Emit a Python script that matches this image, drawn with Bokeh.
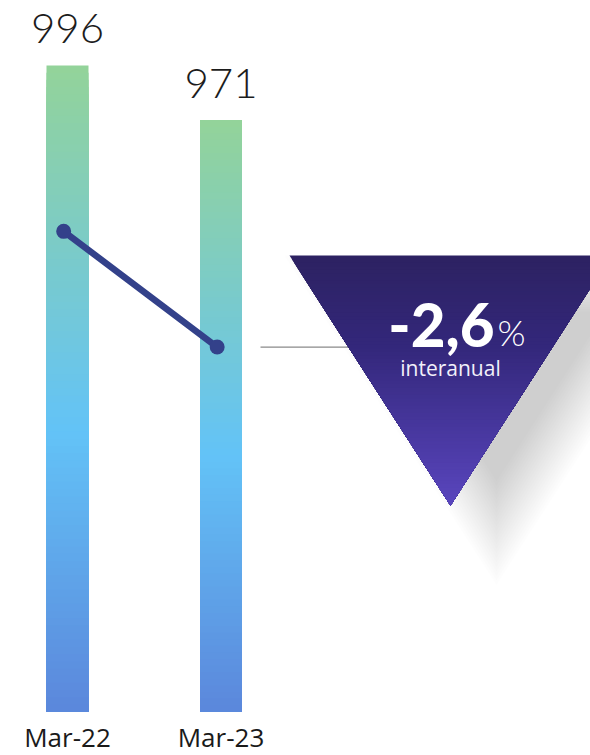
import math
from bokeh.plotting import figure
from bokeh.models import Range1d
from bokeh.core.properties import value
from bokeh.embed import file_html
from bokeh.resources import INLINE

# ---------------- data ----------------
CATEGORIES = ["Mar-22", "Mar-23"]
VALUES = [996, 971]
TREND = [920, 867]
AXIS_MIN = 700
CHANGE_TEXT = "-2,6"
CHANGE_UNIT = "%"
CHANGE_CAPTION = "interanual"

# ---------------- layout constants (pixels) ----------------
W, H = 590, 755
BASE_PX = 711          # screen row of the bar baseline
PX_PER_X = 153.5
PX_PER_Y = 2.1824
X_START = -67 / PX_PER_X
X_END = X_START + W / PX_PER_X
Y_END = AXIS_MIN + BASE_PX / PX_PER_Y
Y_START = Y_END - H / PX_PER_Y

LIGHT = value("Lato Light, Open Sans Light, Open Sans")
HEAVY = value("Lato Black, Lato")


def px2x(px):
    return X_START + px / PX_PER_X


def px2y(py):
    return Y_END - py / PX_PER_Y


def hex2rgb(h):
    h = h.lstrip("#")
    return tuple(int(h[i:i + 2], 16) for i in (0, 2, 4))


def grad(stops, f):
    for (p0, c0), (p1, c1) in zip(stops[:-1], stops[1:]):
        if f <= p1:
            t = 0 if p1 == p0 else (f - p0) / (p1 - p0)
            a, b = hex2rgb(c0), hex2rgb(c1)
            return "#%02x%02x%02x" % tuple(round(a[i] + (b[i] - a[i]) * t) for i in range(3))
    return stops[-1][1]


BAR_STOPS = [(0.0, "#93D39A"), (0.56, "#63C3F7"), (1.0, "#5B86DB")]
TRI_STOPS = [(0.0, "#2D2262"), (0.35, "#33277A"), (1.0, "#5A46BF")]

p = figure(width=W, height=H, x_range=Range1d(X_START, X_END),
           y_range=Range1d(Y_START, Y_END), x_axis_location=None, y_axis_location=None,
           toolbar_location=None, output_backend="svg", min_border=0)
p.outline_line_color = None
p.grid.visible = False
p.background_fill_color = "white"
p.border_fill_color = "white"

# ---------------- gradient bars ----------------
N = 90
bx, btop, bcol = [], [], []
for i, v in enumerate(VALUES):
    for k in range(N):
        f = k / N
        bx.append(i)
        btop.append(v - (v - AXIS_MIN) * f)
        bcol.append(grad(BAR_STOPS, f))
p.vbar(x=bx, top=btop, bottom=AXIS_MIN, width=42 / PX_PER_X,
       fill_color=bcol, line_color=None)

# value labels
p.text(x=list(range(len(VALUES))), y=VALUES, text=[str(v) for v in VALUES],
       text_align="center", text_baseline="alphabetic", y_offset=-37,
       text_font=LIGHT, text_font_size="42px", text_color="#1c1c1c")

# category labels (under the baseline)
p.text(x=list(range(len(CATEGORIES))), y=[AXIS_MIN] * len(CATEGORIES), text=CATEGORIES,
       text_align="center", text_baseline="alphabetic", y_offset=25,
       text_font=value("Open Sans"), text_font_size="26px", text_color="#1a1a1a")

# trend line
TREND_DX = -0.025
tx = [i + TREND_DX for i in range(len(TREND))]
p.line(tx, TREND, line_color="#33418A", line_width=6.5, line_cap="round")
p.scatter(tx, TREND, size=15, fill_color="#33418A", line_color=None)

# ---------------- badge (triangle) ----------------
TL, TR, AP = (289, 255), (611, 255), (450, 505)

# soft shadow: layered insets of an offset triangle
SDX, SDY = 46, 28
S = [(TL[0] + SDX, TL[1] + SDY), (TR[0] + SDX, TR[1] + SDY), (AP[0] + SDX, AP[1] + SDY)]


def dist(a, b):
    return math.hypot(a[0] - b[0], a[1] - b[1])


la, lb, lc = dist(S[1], S[2]), dist(S[0], S[2]), dist(S[0], S[1])
per = la + lb + lc
ix = (la * S[0][0] + lb * S[1][0] + lc * S[2][0]) / per
iy = (la * S[0][1] + lb * S[1][1] + lc * S[2][1]) / per
area = abs((S[1][0] - S[0][0]) * (S[2][1] - S[0][1]) - (S[2][0] - S[0][0]) * (S[1][1] - S[0][1])) / 2
r = area / (per / 2)
sxs, sys_ = [], []
LAYERS = 24
for k in range(LAYERS):
    d = -28 + 56 * k / (LAYERS - 1)
    sc = (r - d) / r
    sxs.append([px2x(ix + (pt[0] - ix) * sc) for pt in S])
    sys_.append([px2y(iy + (pt[1] - iy) * sc) for pt in S])
p.patches(sxs, sys_, fill_color="black", fill_alpha=0.0082, line_color=None)

# connector
p.line([px2x(260), px2x(352)], [TREND[1], TREND[1]], line_color="#8a8a8a", line_width=1.2)

# gradient triangle
M = 70
txs, tys, tcs = [], [], []
hw = (TR[0] - TL[0]) / 2
h = AP[1] - TL[1]
for k in range(M):
    t = k / M
    yy = TL[1] + h * t
    w = hw * (1 - t)
    txs.append([px2x(AP[0] - w), px2x(AP[0] + w), px2x(AP[0])])
    tys.append([px2y(yy), px2y(yy), px2y(AP[1])])
    tcs.append(grad(TRI_STOPS, t))
p.patches(txs, tys, fill_color=tcs, line_color=None)

# badge texts
p.text(x=[px2x(494)], y=[px2y(324)], text=[CHANGE_TEXT], text_align="right",
       text_baseline="alphabetic", text_font=HEAVY, text_font_style="bold",
       text_font_size="60px", text_color="white")
p.text(x=[px2x(497)], y=[px2y(331)], text=[CHANGE_UNIT], text_align="left",
       text_baseline="alphabetic", text_font=LIGHT,
       text_font_size="36px", text_color="white")
p.text(x=[px2x(450)], y=[px2y(367)], text=[CHANGE_CAPTION], text_align="center",
       text_baseline="alphabetic", text_font=value("Open Sans"),
       text_font_size="21px", text_color="#F2F0FA")

open("out.html", "w").write(file_html(p, INLINE))
